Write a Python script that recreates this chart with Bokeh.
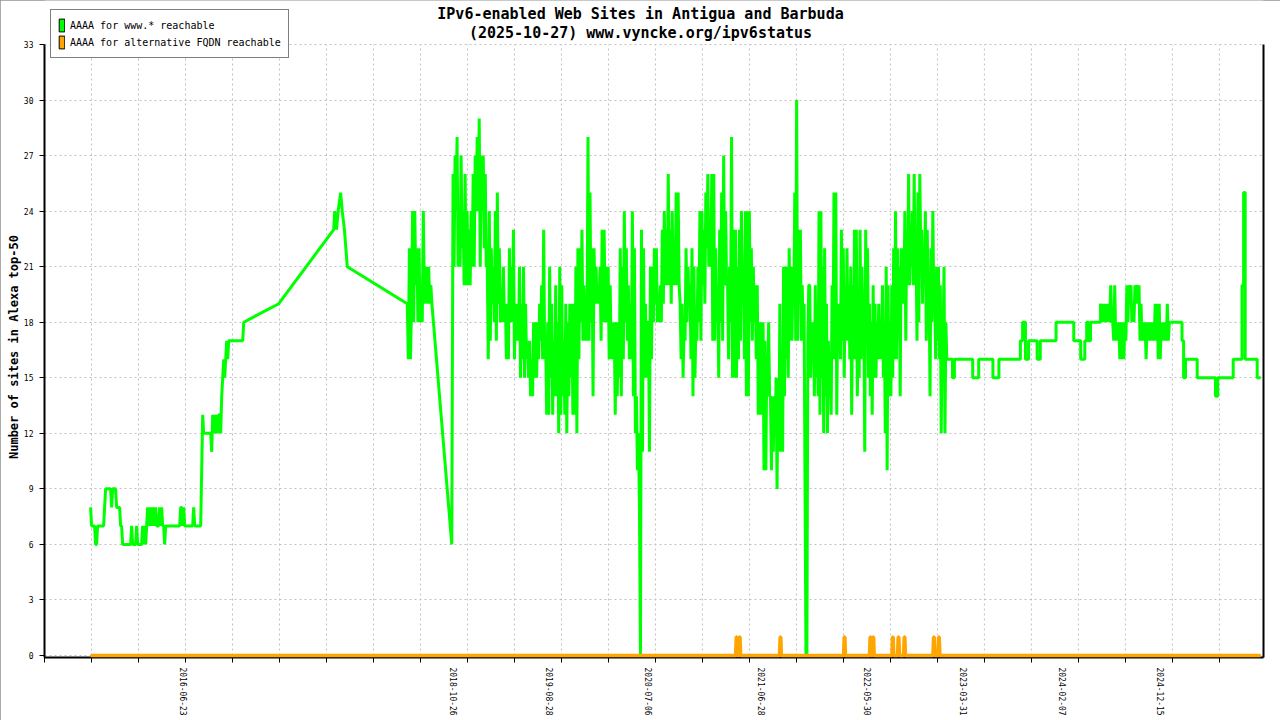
import pandas as pd
from datetime import datetime
from bokeh.plotting import figure
from bokeh.models import (Range1d, FixedTicker, DatetimeTickFormatter, LinearAxis,
                          Legend, LegendItem, Label)
from bokeh.embed import file_html
from bokeh.resources import INLINE

FONT = "DejaVu Sans Mono"

title_line1 = "IPv6-enabled Web Sites in Antigua and Barbuda"
title_line2 = "(2025-10-27) www.vyncke.org/ipv6status"
y_title = "Number of sites in Alexa top-50"
legend_labels = ["AAAA for www.* reachable", "AAAA for alternative FQDN reachable"]

# dated labels on the x axis, y ticks
x_labels = ["2016-06-23", "2018-10-26", "2019-08-28", "2020-07-06", "2021-06-28",
            "2022-05-30", "2023-03-31", "2024-02-07", "2024-12-15"]
y_ticks = [0, 3, 6, 9, 12, 15, 18, 21, 24, 27, 30, 33]

# www.* reachable, first period (roughly daily readings)
early_span = ("2015-09-04", "2017-01-01")
early_values = [8, 7, 7, 7, 7, 6, 6, 7, 7, 7, 7, 7, 7, 7, 8, 9, 9, 9, 9, 9, 9, 8, 9, 9, 9, 9,
                8, 8, 8, 8, 7, 7, 6, 6, 6, 6, 6, 6, 6, 6, 6, 7, 6, 6, 6, 6, 7, 6, 6, 6, 6, 6,
                7, 6, 7, 6, 7, 8, 7, 8, 7, 8, 7, 8, 7, 8, 7, 7, 7, 8, 7, 8, 7, 7, 6, 7, 7,
                7, 7, 7, 7, 7, 7, 7, 7, 7, 7, 7, 7, 7, 8, 8, 7, 8, 7, 7, 7, 7, 7, 7, 7, 7, 7,
                8, 7, 7, 7, 7, 7, 7, 7, 10, 13, 12, 12, 12, 12, 12, 12, 12, 12, 11, 13, 12,
                13, 12, 13, 12, 13, 13, 12, 14, 15, 16, 15, 16, 17, 16, 17, 17, 17, 17, 17,
                17, 17, 17, 17, 17, 17, 17, 17, 17, 17, 18]

# sparse readings 2017
sparse_dates = ["2017-04-22", "2017-10-13", "2017-10-16", "2017-10-22", "2017-10-27",
                "2017-11-04", "2017-11-09", "2017-11-16", "2017-11-25"]
sparse_values = [19, 23, 24, 23, 24, 25, 24, 23, 21]

mid_span = ("2018-06-03", "2018-08-20")
mid_values = [19, 16, 22, 16, 19, 24, 18, 24, 20, 22, 18, 22, 18, 20, 18, 24, 19, 20, 21,
              19, 21, 19, 20, 19]

dip_dates = ["2018-10-22"]
dip_values = [6]

chunk_a_span = ("2018-10-26", "2019-08-25")
chunk_a = [26, 21, 27, 24, 28, 21, 24, 21, 27, 22, 24, 20, 26, 20, 24, 20, 23, 20, 24, 21,
           26, 21, 27, 24, 28, 24, 29, 21, 27, 24, 27, 22, 26, 21, 21, 16, 24, 17, 22, 19,
           21, 18, 24, 17, 25, 19, 22, 18, 19, 18, 21, 18, 19, 16, 19, 16, 22, 18, 21, 18,
           23, 16, 19, 17, 19, 17, 21, 15, 19, 16, 21, 15, 19, 16, 17, 15, 17, 14, 16, 14,
           18, 15, 18, 15, 18, 16, 19, 17, 20, 16, 23, 16, 17, 13, 18, 13]

chunk_b_span = ("2019-08-28", "2020-07-03")
chunk_b = [21, 15, 19, 13, 17, 14, 20, 14, 18, 12, 21, 13, 20, 14, 17, 13, 19, 12, 18, 14,
           19, 15, 19, 13, 19, 13, 21, 12, 22, 16, 22, 18, 23, 17, 20, 17, 18, 17, 28, 17,
           25, 18, 22, 14, 22, 19, 21, 19, 20, 19, 21, 17, 23, 18, 23, 18, 21, 18, 21, 16,
           20, 16, 18, 16, 18, 13, 18, 14, 18, 15, 22, 14, 21, 16, 24, 18, 22, 17, 20, 16,
           19, 16, 24, 14, 22, 12, 14, 10, 12, 8, 0, 23, 11, 22, 15, 19, 15, 18]

chunk_c_span = ("2020-07-06", "2021-06-25")
chunk_c = [18, 11, 21, 16, 21, 18, 22, 19, 22, 18, 19, 18, 20, 18, 23, 19, 24, 20, 23, 20,
           26, 20, 23, 19, 24, 20, 22, 20, 25, 20, 25, 20, 19, 16, 19, 15, 18, 17, 22, 18,
           21, 19, 20, 16, 22, 14, 21, 15, 18, 17, 21, 18, 24, 17, 24, 20, 23, 19, 25, 22,
           26, 21, 22, 21, 26, 17, 26, 17, 22, 18, 20, 15, 23, 18, 25, 17, 27, 20, 24, 20,
           20, 16, 21, 18, 28, 15, 23, 15, 23, 15, 21, 16, 23, 17, 24, 19, 21, 16, 24, 14,
           24, 14, 24, 18, 22, 17, 21, 18, 20, 16, 20, 13, 18, 13]

chunk_d_span = ("2021-06-28", "2022-05-22")
chunk_d = [18, 13, 18, 10, 17, 10, 16, 15, 18, 14, 14, 10, 14, 11, 14, 12, 15, 9, 15, 11,
           19, 11, 16, 11, 21, 14, 21, 16, 21, 15, 22, 17, 21, 17, 21, 19, 25, 17, 30, 17,
           23, 19, 23, 17, 20, 17, 19, 9, 0, 0, 17, 20, 20, 15, 18, 16, 18, 14, 20, 15,
           19, 14, 24, 13, 24, 15, 21, 12, 22, 14, 19, 12, 17, 14, 16, 13, 20, 16, 25, 16,
           25, 13, 19, 17, 19, 16, 23, 17, 22, 15, 20, 17, 22, 17, 20, 16, 21, 13, 20, 16,
           23, 16, 23, 14, 17, 15, 23, 16, 21, 18, 19, 11]

chunk_e_span = ("2022-05-25", "2023-02-06")
chunk_e = [23, 17, 22, 15, 19, 14, 18, 13, 20, 15, 19, 15, 18, 16, 19, 16, 18, 16, 20, 15,
           18, 12, 21, 10, 20, 14, 18, 14, 20, 15, 22, 16, 24, 16, 22, 18, 21, 14, 22, 19,
           22, 19, 24, 17, 23, 20, 26, 20, 23, 21, 24, 20, 26, 20, 22, 17, 25, 18, 26, 22,
           23, 19, 22, 20, 24, 17, 23, 19, 20, 14, 22, 18, 24, 19, 20, 16, 21, 17, 21, 16,
           20, 12, 18, 17, 21, 12, 18, 16]

# quieter period: value changes only
tail1_dates = ["2023-02-06", "2023-02-24", "2023-03-02", "2023-04-29", "2023-05-18",
               "2023-07-02", "2023-07-21", "2023-09-27", "2023-10-04", "2023-10-13",
               "2023-10-23", "2023-11-19", "2023-11-29", "2024-01-18", "2024-03-14",
               "2024-04-05", "2024-04-18", "2024-04-24", "2024-04-30", "2024-05-06",
               "2024-06-07"]
tail1_values = [16, 15, 16, 15, 16, 15, 16, 17, 18, 16, 17, 16, 17, 18, 17, 16, 17, 18, 17,
                18, 19]

chunk_f_span = ("2024-06-07", "2025-01-14")
chunk_f = [19, 18, 19, 18, 19, 18, 19, 18, 19, 18, 20, 18, 18, 17, 20, 17, 18, 17, 18, 16,
           18, 16, 18, 16, 18, 17, 20, 18, 20, 19, 20, 18, 19, 18, 20, 19, 20, 19, 20, 17,
           19, 17, 18, 17, 18, 16, 18, 17, 18, 17, 18, 17, 18, 17, 19, 17, 19, 16, 19, 16,
           18, 17, 18, 17, 18, 17, 19, 17, 18, 18]

tail2_dates = ["2025-01-14", "2025-02-20", "2025-02-25", "2025-03-03", "2025-04-09",
               "2025-06-06", "2025-06-13", "2025-08-01", "2025-08-29", "2025-09-03",
               "2025-09-08", "2025-10-16", "2025-10-27"]
tail2_values = [18, 17, 15, 16, 15, 14, 15, 16, 20, 25, 16, 15, 15]

# alternative FQDN reachable
alt_dates = ["2015-09-04",
             "2021-04-08", "2021-04-10", "2021-04-12", "2021-04-14",
             "2021-04-18", "2021-04-20", "2021-04-22", "2021-04-24",
             "2021-08-25", "2021-08-27", "2021-08-29", "2021-08-31",
             "2022-03-16", "2022-03-18", "2022-03-20", "2022-03-22",
             "2022-06-06", "2022-06-08", "2022-06-10", "2022-06-12",
             "2022-06-15", "2022-06-17", "2022-06-19", "2022-06-21",
             "2022-08-16", "2022-08-18", "2022-08-20", "2022-08-22",
             "2022-09-03", "2022-09-05", "2022-09-07", "2022-09-09",
             "2022-09-22", "2022-09-24", "2022-09-26", "2022-09-28",
             "2022-12-24", "2022-12-26", "2022-12-28", "2022-12-30",
             "2023-01-09", "2023-01-11", "2023-01-13", "2023-01-15",
             "2025-10-27"]
alt_values = [0,
              0, 1, 1, 0,
              0, 1, 1, 0,
              0, 1, 1, 0,
              0, 1, 1, 0,
              0, 1, 1, 0,
              0, 1, 1, 0,
              0, 1, 1, 0,
              0, 1, 1, 0,
              0, 1, 1, 0,
              0, 1, 1, 0,
              0, 1, 1, 0,
              0]

GREEN = "#00ff00"
ORANGE = "#ffa500"
GRID = "#c0c0c0"
NAN = float("nan")


def spread(span, values):
    # readings evenly spread over the given period
    return list(pd.date_range(span[0], span[1], periods=len(values)))


def to_ms(dates):
    return [int((pd.Timestamp(d) - pd.Timestamp("1970-01-01")) / pd.Timedelta("1ms")) for d in dates]


main_x = (spread(early_span, early_values) + list(pd.to_datetime(sparse_dates))
          + spread(mid_span, mid_values) + list(pd.to_datetime(dip_dates))
          + spread(chunk_a_span, chunk_a) + spread(chunk_b_span, chunk_b)
          + spread(chunk_c_span, chunk_c) + spread(chunk_d_span, chunk_d)
          + spread(chunk_e_span, chunk_e))
main_y = (early_values + sparse_values + mid_values + dip_values
          + chunk_a + chunk_b + chunk_c + chunk_d + chunk_e)

# the frame reaches the top of the canvas so the title and legend can sit in it;
# 33 stays 44px below the top and 0 sits 2px above the bottom axis
px_per_unit = 611 / 33
y_start = -2 / px_per_unit
y_end = 33 + 44 / px_per_unit

p = figure(width=1280, height=720, x_axis_type="datetime",
           x_range=Range1d(datetime(2015, 4, 11), datetime(2025, 11, 5)),
           y_range=Range1d(y_start, y_end),
           output_backend="svg", toolbar_location=None,
           min_border_left=44, min_border_right=17, min_border_top=0, min_border_bottom=63)
p.background_fill_color = "white"
p.border_fill_color = "white"
p.outline_line_color = None
# thin grey frame round the whole image
p.styles = {"outline": "1px solid #909090", "outline-offset": "-1px"}

# grid lines every ~149 days like the original tick marks
grid_ticks = pd.date_range("2015-04-11", periods=26, freq=pd.Timedelta(days=148.85))
p.segment(x0=list(grid_ticks[1:]), y0=0, x1=list(grid_ticks[1:]), y1=33,
          line_color=GRID, line_dash="2 3", line_width=1)

p.line(main_x, main_y, line_color=GREEN, line_width=3)
p.step(list(pd.to_datetime(tail1_dates)), tail1_values, mode="after", line_color=GREEN, line_width=3)
p.line(spread(chunk_f_span, chunk_f), chunk_f, line_color=GREEN, line_width=3)
p.step(list(pd.to_datetime(tail2_dates)), tail2_values, mode="after", line_color=GREEN, line_width=3)
p.line(list(pd.to_datetime(alt_dates)), alt_values, line_color=ORANGE, line_width=3.5,
       level="overlay")

xa = p.xaxis[0]
xa.ticker = FixedTicker(ticks=to_ms(x_labels), minor_ticks=to_ms(grid_ticks))
fmt = "%Y-%m-%d"
xa.formatter = DatetimeTickFormatter(days=fmt, months=fmt, years=fmt, hours=fmt,
                                     hourmin=fmt, minutes=fmt, minsec=fmt, seconds=fmt,
                                     milliseconds=fmt, microseconds=fmt)
xa.major_label_orientation = "vertical"
xa.major_tick_in = 0
xa.major_tick_out = 0
xa.minor_tick_in = 2
xa.minor_tick_out = 5
xa.minor_tick_line_color = "black"
xa.major_label_standoff = 5
xa.major_label_text_font = FONT
xa.major_label_text_font_size = "8px"
xa.major_label_text_color = "black"
xa.axis_line_width = 2
xa.axis_line_color = "black"

ya = p.yaxis[0]
ya.ticker = FixedTicker(ticks=y_ticks)
ya.bounds = (y_start, 33)
# the label is centred on the whole frame; trailing no-break spaces move it down
# to the middle of the 0..33 span
ya.axis_label = y_title + "\u00a0" * 5
ya.axis_label_text_font = FONT
ya.axis_label_text_font_size = "12px"
ya.axis_label_text_font_style = "bold"
ya.axis_label_text_color = "black"
ya.axis_label_standoff = 0
ya.major_label_text_font = FONT
ya.major_label_text_font_size = "8px"
ya.major_label_text_color = "black"
ya.major_label_standoff = 6
ya.major_tick_out = 5
ya.major_tick_in = 0
ya.minor_tick_line_color = None
ya.axis_line_width = 2
ya.axis_line_color = "black"

right_axis = LinearAxis(ticker=FixedTicker(ticks=[]), bounds=(y_start, 33),
                        axis_line_width=2, axis_line_color="black",
                        major_tick_line_color=None, minor_tick_line_color=None,
                        major_label_text_font_size="0px")
p.add_layout(right_axis, "right")

p.xgrid.grid_line_color = None
p.ygrid.grid_line_color = GRID
p.ygrid.grid_line_dash = "2 3"

# legend swatches (nothing drawn in the plot itself)
g_box = p.quad(left=[NAN], right=[NAN], top=[NAN], bottom=[NAN], fill_color=GREEN, line_color="black")
o_box = p.quad(left=[NAN], right=[NAN], top=[NAN], bottom=[NAN], fill_color=ORANGE, line_color="black")
legend = Legend(items=[LegendItem(label=legend_labels[0], renderers=[g_box]),
                       LegendItem(label=legend_labels[1], renderers=[o_box])],
                location=(6, 599), orientation="vertical",
                border_line_color="black", border_line_width=1,
                background_fill_color="white", background_fill_alpha=1.0,
                padding=7, spacing=1, margin=0,
                glyph_width=7, glyph_height=16, label_height=16, label_standoff=5,
                label_text_font=FONT, label_text_font_size="10px",
                label_text_color="black", label_text_baseline="middle")
p.add_layout(legend)

for txt, ypos in [(title_line1, 644), (title_line2, 625)]:
    p.add_layout(Label(x=596, y=ypos, x_units="screen", y_units="screen", text=txt,
                       text_align="center", text_baseline="middle",
                       text_font=FONT, text_font_size="15px", text_font_style="bold",
                       text_color="black"))

open("out.html", "w").write(file_html(p, INLINE))
